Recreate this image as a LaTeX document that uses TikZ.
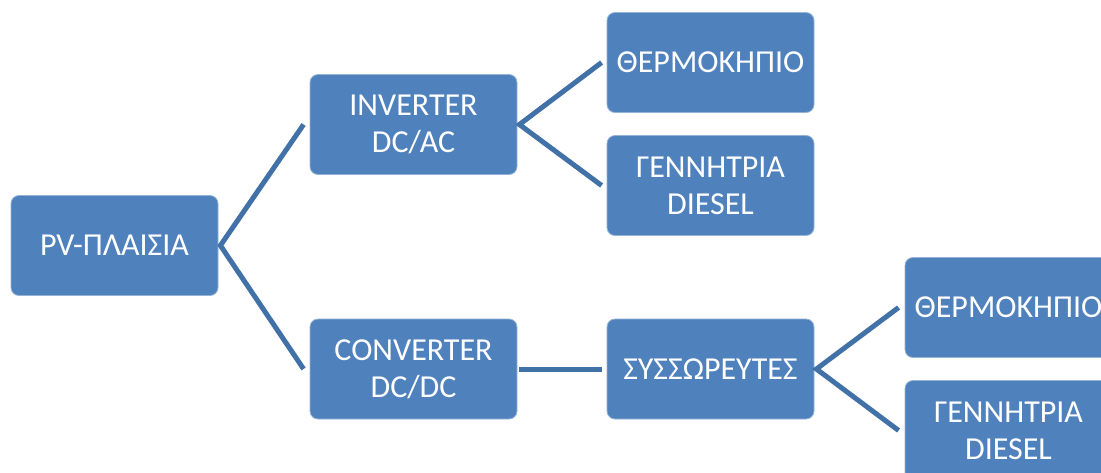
\documentclass[tikz,border=0pt]{standalone}
\usepackage{fontspec}
\setmainfont{Carlito}
\usetikzlibrary{positioning}

\definecolor{boxblue}{RGB}{79,129,189}
\definecolor{lineblue}{RGB}{65,113,166}

\tikzset{
    box/.style={fill=boxblue, draw=boxblue!60!white, line width=0.8pt, rounded corners=8pt,
        minimum width=207pt, minimum height=100pt, text=white, align=center,
        font=\fontsize{32}{37}\selectfont},
    link/.style={draw=lineblue, line width=5pt}
}

\begin{document}
\begin{tikzpicture}[x=1pt, y=-1pt]
        \useasboundingbox (0,0) rectangle (1101,472);
        % boxes
        \node[box] (pv)      at (114.5, 245.5) {PV-ΠΛΑΙΣΙΑ};
        \node[box] (inv)     at (413.5, 124.5) {INVERTER\\DC/AC};
        \node[box] (conv)    at (413.5, 369.0) {CONVERTER\\DC/DC};
        \node[box] (thermA)  at (710.5,  62.5) {ΘΕΡΜΟΚΗΠΙΟ};
        \node[box] (genA)    at (710.5, 185.5) {ΓΕΝΝΗΤΡΙΑ\\DIESEL};
        \node[box] (battery) at (710.5, 369.0) {ΣΥΣΣΩΡΕΥΤΕΣ};
        \node[box] (thermB)  at (1008.5, 307.5) {ΘΕΡΜΟΚΗΠΙΟ};
        \node[box] (genB)    at (1008.5, 430.5) {ΓΕΝΝΗΤΡΙΑ\\DIESEL};
        % connectors
        \draw[link] ([xshift=-6pt]inv.west) -- ([xshift=2pt]pv.east) -- ([xshift=-6pt]conv.west);
        \draw[link] ([xshift=-5pt]thermA.west) -- ([xshift=2pt]inv.east) -- ([xshift=-5pt]genA.west);
        \draw[link] ([xshift=2pt]conv.east) -- ([xshift=-5pt]battery.west);
        \draw[link] ([xshift=-6pt]thermB.west) -- ([xshift=2pt]battery.east) -- ([xshift=-6pt]genB.west);
\end{tikzpicture}
\end{document}
